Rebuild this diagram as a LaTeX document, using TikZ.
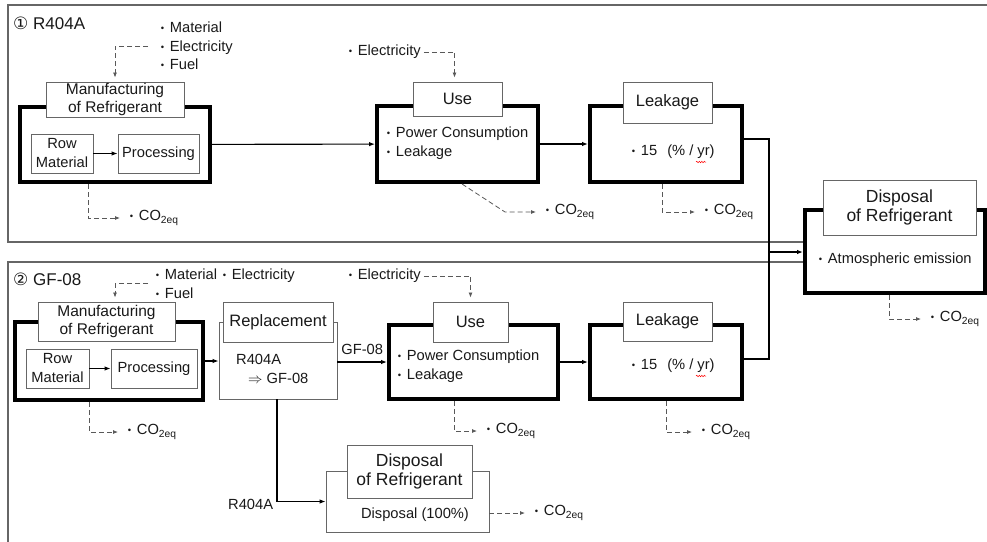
\documentclass[tikz,border=0pt]{standalone}
\usepackage{fontspec}
\setmainfont{Liberation Sans}
\newfontfamily\symfont{DejaVu Sans}
\usetikzlibrary{arrows.meta,decorations.pathmorphing}

\newcommand\bul{\makebox[1em][c]{\raisebox{0.08em}{\fontsize{9.5}{9.5}\selectfont\textbullet}}}
\newcommand\coeq{\bul CO\textsubscript{2eq}}

\tikzset{
  every node/.style={font=\fontsize{14.7}{19}\selectfont, text=black!90},
  panel/.style={draw=black!60, line width=1.1pt},
  stage/.style={draw=black, line width=4pt, fill=white, inner sep=0pt},
  lbl/.style={draw=black!60, line width=0.9pt, fill=white, inner sep=0pt, align=center},
  sub/.style={draw=black!60, line width=0.9pt, fill=white, inner sep=0pt, align=center},
  txt/.style={anchor=west, inner sep=0pt, align=left},
  arr/.style={-{Latex[length=6pt,width=4.5pt]}, line width=1.1pt},
  link/.style={line width=1.1pt},
  flowdash/.style={-{Latex[length=5pt,width=4pt]}, draw=black!65, line width=0.8pt,
    dash pattern=on 5pt off 3pt, shorten >=4pt},
  spell/.style={draw=red, line width=0.5pt, decorate,
    decoration={snake, amplitude=0.7pt, segment length=2.5pt}},
  title/.style={font=\fontsize{17}{20}\selectfont},
  mfgfont/.style={font=\fontsize{15.5}{18}\selectfont},
  stepfont/.style={font=\fontsize{16.5}{19}\selectfont},
  dispfont/.style={font=\fontsize{17.5}{19}\selectfont}
}

\begin{document}
\begin{tikzpicture}[x=1pt,y=-1pt]
\useasboundingbox (0,0) rectangle (987,541);
\clip (0,0) rectangle (987,541);

% panels
\draw[panel] (8,5) rectangle (1000,242);
\draw[panel] (8,262) rectangle (1000,560);
\node[txt, title] (headA) at (13,23) {{\symfont ①} R404A};
\node[txt, title] (headB) at (13,279) {{\symfont ②} GF-08};

% R404A
\node[stage, minimum width=190pt, minimum height=75pt] (mfgA) at (115,144.5) {};
\node[lbl, mfgfont, minimum width=138pt, minimum height=35pt] (mfgAlbl) at (115,99.5) {Manufacturing\\of Refrigerant};
\node[sub, minimum width=62pt, minimum height=39pt] (rowA) at (62,153.5) {Row\\Material};
\node[sub, minimum width=81pt, minimum height=39pt] (procA) at (158.5,153.5) {Processing};

\node[stage, minimum width=161pt, minimum height=76pt] (useA) at (457.5,144) {};
\node[lbl, stepfont, minimum width=89pt, minimum height=34pt] (useAlbl) at (457.5,99) {Use};
\node[txt] (useAtxt) at (381,143.5) {\bul Power Consumption\\\bul Leakage};

\node[stage, minimum width=152pt, minimum height=76pt] (leakA) at (666,144) {};
\node[lbl, stepfont, minimum width=89pt, minimum height=41pt] (leakAlbl) at (667.5,102.5) {Leakage};
\node[txt] (leakAtxt) at (626,152) {\bul 15\hspace{10pt}(\% / yr)};
\draw[spell] (696,162) -- (706,162);

% disposal, common
\node[stage, minimum width=180pt, minimum height=83pt] (disp) at (895,251.5) {};
\node[lbl, dispfont, minimum width=153pt, minimum height=55pt] (displbl) at (899.5,207.5) {Disposal\\of Refrigerant};
\node[txt] (disptxt) at (813,260) {\bul Atmospheric emission};

% GF-08
\node[stage, minimum width=188pt, minimum height=78pt] (mfgB) at (109,361) {};
\node[lbl, mfgfont, minimum width=137pt, minimum height=39pt] (mfgBlbl) at (106.5,321.5) {Manufacturing\\of Refrigerant};
\node[sub, minimum width=63pt, minimum height=39pt] (rowB) at (57.5,368.5) {Row\\Material};
\node[sub, minimum width=86pt, minimum height=39pt] (procB) at (154,368.5) {Processing};

\node[sub, minimum width=118pt, minimum height=77pt] (repB) at (278,360.5) {};
\node[lbl, stepfont, minimum width=110pt, minimum height=40pt] (repBlbl) at (278,322) {Replacement};
\node[txt] (repBtxt) at (236,369) {R404A\\\hspace{12pt}$\Rightarrow$ GF-08};

\node[stage, minimum width=169pt, minimum height=74pt] (useB) at (473.5,362) {};
\node[lbl, stepfont, minimum width=75pt, minimum height=40pt] (useBlbl) at (470.5,322) {Use};
\node[txt] (useBtxt) at (392,366.5) {\bul Power Consumption\\\bul Leakage};

\node[stage, minimum width=152pt, minimum height=74pt] (leakB) at (666,362) {};
\node[lbl, stepfont, minimum width=89pt, minimum height=39pt] (leakBlbl) at (667.5,321.5) {Leakage};
\node[txt] (leakBtxt) at (626,366) {\bul 15\hspace{10pt}(\% / yr)};
\draw[spell] (696,376) -- (706,376);

\node[sub, minimum width=163pt, minimum height=61pt] (dispB) at (407.5,501.5) {};
\node[lbl, dispfont, minimum width=125pt, minimum height=53pt] (dispBlbl) at (409.5,471.5) {Disposal\\of Refrigerant};
\node (dispBtxt) at (415,515) {Disposal (100\%)};

% inputs
\node[txt, font=\fontsize{14.7}{18.5}\selectfont] (inA) at (155,46) {\bul Material\\\bul Electricity\\\bul Fuel};
\node[txt] (elecA) at (343,52) {\bul Electricity};
\node[txt] (inB) at (150,283.5) {\bul Material\bul Electricity\\\bul Fuel};
\node[txt] (elecB) at (343,276) {\bul Electricity};

% outputs
\node[txt] (coMfgA) at (124,218) {\coeq};
\node[txt] (coUseA) at (540,212) {\coeq};
\node[txt] (coLeakA) at (699,212) {\coeq};
\node[txt] (coDisp) at (925,319) {\coeq};
\node[txt] (coMfgB) at (122,432) {\coeq};
\node[txt] (coUseB) at (481,431) {\coeq};
\node[txt] (coLeakB) at (696,432) {\coeq};
\node[txt] (coDispB) at (529,513) {\coeq};

\coordinate (bendA) at (505,212);
\coordinate (jA) at (769,139);
\coordinate (jB) at (769,359);
\coordinate (jD) at (769,252);

% flows
\draw[arr] (rowA) -- (procA);
\draw[arr] (mfgA) -- (useA);
\draw[arr] (useA) -- (leakA);
\draw[link] (leakA.east |- jA) -- (jA) -- (jB) -- (leakB.east |- jB);
\draw[arr] (jD) -- (disp.west |- jD);

\draw[arr] (rowB) -- (procB);
\draw[arr] (mfgB) -- (repB.west |- mfgB);
\draw[arr] (repB.east |- useB) -- node[midway, above=3pt] {GF-08} (useB.west);
\draw[arr] (useB) -- (leakB);
\draw[arr] ([xshift=-1pt]repB.south) |- node[pos=0.5, left, yshift=-3pt] {R404A} (dispB.west);

% dashed in / out
\draw[flowdash] ([xshift=-7pt]inA.west) -| (mfgAlbl.north);
\draw[flowdash] ([xshift=3pt]elecA.east) -| ([xshift=-3pt]useAlbl.north);
\draw[flowdash] ([xshift=-2pt]inB.west) -| ([xshift=8.5pt]mfgBlbl.north);
\draw[flowdash] ([xshift=3pt]elecB.east) -| (useBlbl.north);

\draw[flowdash] ([xshift=-27pt]mfgA.south) |- (coMfgA.west);
\draw[flowdash] ([xshift=4.5pt]useA.south) -- (bendA) -- (coUseA.west);
\draw[flowdash] ([xshift=-4pt]leakA.south) |- (coLeakA.west);
\draw[flowdash] ([xshift=-6pt]disp.south) |- (coDisp.west);
\draw[flowdash] ([xshift=-20pt]mfgB.south) |- (coMfgB.west);
\draw[flowdash] ([xshift=-19.5pt]useB.south) |- (coUseB.west);
\draw[flowdash] (leakB.south) |- (coLeakB.west);
\draw[flowdash] ([yshift=-11.5pt]dispB.east) -- (coDispB.west);
\end{tikzpicture}
\end{document}
